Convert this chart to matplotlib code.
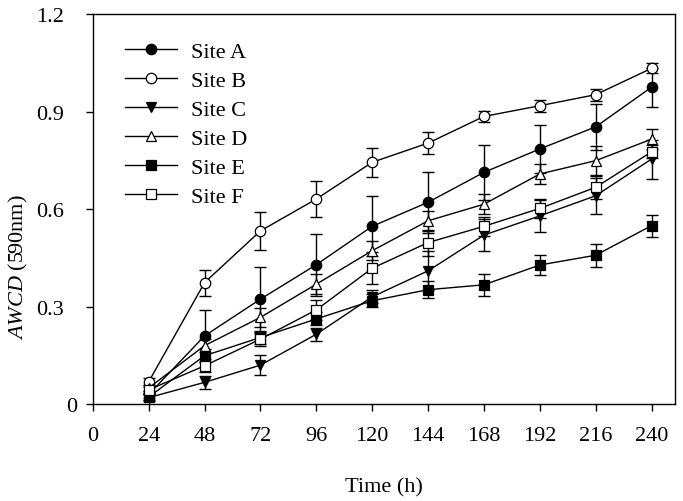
import matplotlib
matplotlib.use('Agg')
import matplotlib.pyplot as plt
from matplotlib.transforms import ScaledTranslation

plt.rcParams['font.family'] = 'Liberation Serif'
plt.rcParams['mathtext.fontset'] = 'custom'
plt.rcParams['mathtext.rm'] = 'Liberation Serif'
plt.rcParams['mathtext.it'] = 'Liberation Serif:italic'

hours = [24, 48, 72, 96, 120, 144, 168, 192, 216, 240]
x_ticks = [0, 24, 48, 72, 96, 120, 144, 168, 192, 216, 240]
y_ticks = [0, 0.3, 0.6, 0.9, 1.2]
y_tick_labels = ['0', '0.3', '0.6', '0.9', '1.2']

site_a = [0.030, 0.210, 0.323, 0.429, 0.547, 0.621, 0.713, 0.785, 0.853, 0.975]
site_b = [0.069, 0.374, 0.533, 0.631, 0.744, 0.803, 0.885, 0.918, 0.952, 1.033]
site_c = [0.020, 0.067, 0.120, 0.215, 0.330, 0.410, 0.520, 0.579, 0.641, 0.754]
site_d = [0.050, 0.180, 0.267, 0.369, 0.472, 0.564, 0.615, 0.708, 0.749, 0.815]
site_e = [0.022, 0.149, 0.205, 0.262, 0.318, 0.352, 0.367, 0.428, 0.458, 0.549]
site_f = [0.044, 0.118, 0.200, 0.290, 0.418, 0.497, 0.547, 0.602, 0.667, 0.776]

err_a = [0.010, 0.080, 0.100, 0.095, 0.092, 0.094, 0.084, 0.075, 0.070, 0.060]
err_b = [0.010, 0.040, 0.058, 0.054, 0.045, 0.034, 0.018, 0.018, 0.018, 0.015]
err_c = [0.010, 0.020, 0.030, 0.020, 0.020, 0.060, 0.050, 0.050, 0.055, 0.060]
err_d = [0.010, 0.020, 0.030, 0.030, 0.030, 0.030, 0.030, 0.030, 0.045, 0.030]
err_e = [0.010, 0.020, 0.020, 0.020, 0.020, 0.027, 0.033, 0.030, 0.036, 0.034]
err_f = [0.010, 0.020, 0.020, 0.030, 0.050, 0.040, 0.030, 0.030, 0.035, 0.020]

series = [
    ('Site A', site_a, err_a, 'o', 'black'),
    ('Site B', site_b, err_b, 'o', 'white'),
    ('Site C', site_c, err_c, 'v', 'black'),
    ('Site D', site_d, err_d, '^', 'white'),
    ('Site E', site_e, err_e, 's', 'black'),
    ('Site F', site_f, err_f, 's', 'white'),
]

fig = plt.figure(figsize=(6.83, 5.02), dpi=100)
ax = fig.add_axes([0.136, 0.193, 0.852, 0.777])

for name, vals, errs, mk, face in series:
    ax.errorbar(hours, vals, yerr=errs, fmt='none', ecolor='black',
                elinewidth=1.0, capsize=4, capthick=1.0, zorder=2)
    ax.plot(hours, vals, color='black', lw=1.0, marker=mk, markersize=7.5,
            markerfacecolor=face, markeredgecolor='black', markeredgewidth=0.9,
            label=name, zorder=3)

ax.set_xlim(0, 250)
ax.set_ylim(0, 1.2)
ax.set_xticks(x_ticks)
ax.set_yticks(y_ticks)
ax.set_yticklabels(y_tick_labels)
ax.tick_params(direction='out', length=5, width=1, labelsize=16)
ax.tick_params(axis='x', pad=11)
ax.tick_params(axis='y', pad=16)
for s in ax.spines.values():
    s.set_linewidth(1.0)

ax.set_xlabel('Time (h)', fontsize=16, labelpad=23)
ax.set_ylabel(r'$AWCD$ (590nm)', fontsize=16)
ax.yaxis.set_label_coords(-0.108, 0.354)

ax.legend(loc='upper left', bbox_to_anchor=(0.04, 0.952), frameon=False,
          fontsize=16, handlelength=2.34, handletextpad=0.63, labelspacing=0.38,
          borderaxespad=0)

# the "0" label on the y axis sits closer to the axis in the original
zero_lab = ax.yaxis.get_major_ticks()[0].label1
zero_lab.set_transform(zero_lab.get_transform() +
                       ScaledTranslation(10 / 72, 0, fig.dpi_scale_trans))

fig.savefig('out.png', dpi=100)
